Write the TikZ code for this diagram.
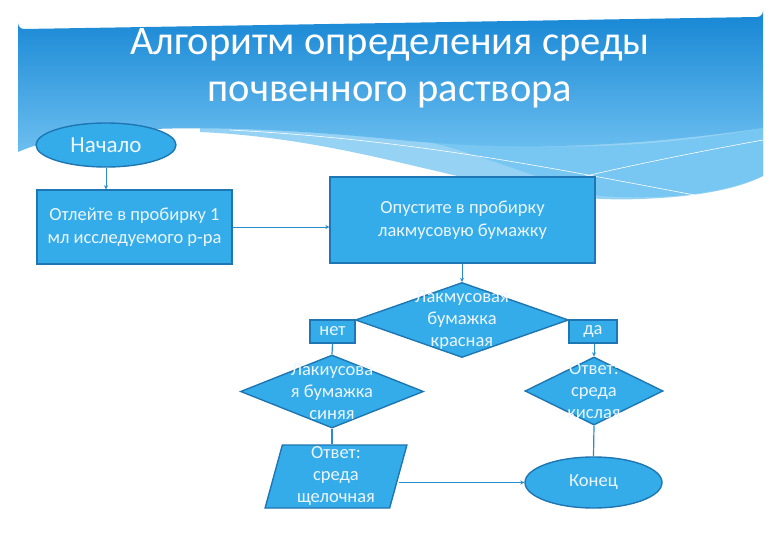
\documentclass[tikz,border=0pt]{standalone}
\usepackage{fontspec}
\setmainfont{Carlito}
\usetikzlibrary{shapes.geometric,arrows.meta}
\definecolor{nodefill}{RGB}{52,172,234}
\definecolor{nodeborder}{RGB}{30,118,178}
\definecolor{linecol}{RGB}{40,140,205}
\definecolor{txt}{RGB}{236,246,255}
\definecolor{bantop}{RGB}{22,134,212}
\definecolor{banbot}{RGB}{110,192,240}
\definecolor{band}{RGB}{150,210,244}
\definecolor{band2}{RGB}{120,198,242}
\tikzset{
  shp/.style={draw=nodeborder, line width=1.4pt, fill=nodefill, text=txt, inner sep=0pt, font=\fontsize{18.5}{23.5}\selectfont, align=center},
  boxnode/.style={shp, rectangle},
  ovalnode/.style={shp, ellipse},
  dianode/.style={shp, diamond},
  paranode/.style={shp, trapezium, trapezium left angle=78, trapezium right angle=102, trapezium stretches=true},
  conn/.style={draw=linecol, line width=0.9pt, -{Stealth[length=4pt,width=4pt]}},
  plainconn/.style={draw=linecol, line width=1.2pt},
  lbl/.style={text=txt, font=\fontsize{18.5}{22}\selectfont, align=center, inner sep=0pt}
}
\begin{document}
\begin{tikzpicture}[x=1pt,y=-1pt]
\useasboundingbox (0,0) rectangle (780,540);
\fill[white] (0,0) rectangle (780,540);
% banner light band
\fill[band] (200,132) .. controls (380,140) and (500,205) .. (640,199) .. controls (700,197) and (740,188) .. (763,176) -- (763,110) -- (200,110) -- cycle;
\fill[band2] (420,140) .. controls (560,150) and (640,150) .. (763,128) -- (763,176) .. controls (720,195) and (660,200) .. (600,196) .. controls (540,180) and (470,150) .. (420,140) -- cycle;
% main banner
\shade[top color=bantop, bottom color=banbot]
  (18,23) arc[start angle=180, end angle=90, radius=6] -- (757,17) arc[start angle=90, end angle=0, radius=6]
  -- (763,128) .. controls (680,140) and (550,155) .. (400,140) .. controls (250,125) and (90,120) .. (18,152) -- cycle;
% thin white wave lines
\draw[white, line width=0.6pt] (230,130) .. controls (420,140) and (560,170) .. (700,196);
\draw[white, line width=0.6pt] (470,205) .. controls (580,175) and (680,155) .. (763,140);
% title
\node[text=white, font=\fontsize{40.5}{47}\selectfont, align=center] (title) at (390,68) {Алгоритм определения среды\\почвенного раствора};
% nodes
\node[ovalnode, minimum width=140pt, minimum height=44pt, font=\fontsize{23}{27}\selectfont] (start) at (106,145) {Начало};
\node[boxnode, minimum width=195pt, minimum height=74pt] (box1) at (134.5,227) {Отлейте в пробирку 1\\мл исследуемого р-ра};
\node[boxnode, minimum width=265pt, minimum height=86pt] (box2) at (462.5,220) {Опустите в пробирку\\лакмусовую бумажку};
\node[dianode, minimum width=213pt, minimum height=75pt] (d1) at (462,320) {};
\node[lbl] at (d1.center) {Лакмусовая\\бумажка\\красная};
\node[boxnode, minimum width=45pt, minimum height=23pt] (net) at (332.5,331.5) {нет};
\node[boxnode, minimum width=48pt, minimum height=23pt] (da) at (593,331.5) {да};
\node[dianode, minimum width=183pt, minimum height=73pt] (d2) at (332,391.5) {};
\node[lbl] at (d2.center) {Лакиусова\\я бумажка\\синяя};
\node[dianode, minimum width=138pt, minimum height=68pt] (d3) at (594,391) {};
\node[lbl] at (d3.center) {Ответ:\\среда\\кислая};
\node[paranode, minimum width=142pt, minimum height=63pt, font=\fontsize{18.5}{22}\selectfont] (para) at (336,476.5) {Ответ:\\среда\\щелочная};
\node[ovalnode, minimum width=137pt, minimum height=51pt] (fin) at (593.5,482.5) {Конец};
% connectors
\draw[conn] (start.south) -- (box1.north -| start.south);
\draw[conn] (box1.east) -- (box1.east -| box2.west);
\draw[conn] (box2.south -| d1.north) -- (d1.north);
\draw[plainconn] (net.south) -- (d2.north);
\draw[conn] (da.south -| d3.north) -- (d3.north);
\draw[plainconn] (d2.south) -- (para.north -| d2.south);
\draw[plainconn] (d3.south) -- (fin.north);
\draw[conn] (para.east |- fin.west) -- (fin.west);
\end{tikzpicture}
\end{document}
